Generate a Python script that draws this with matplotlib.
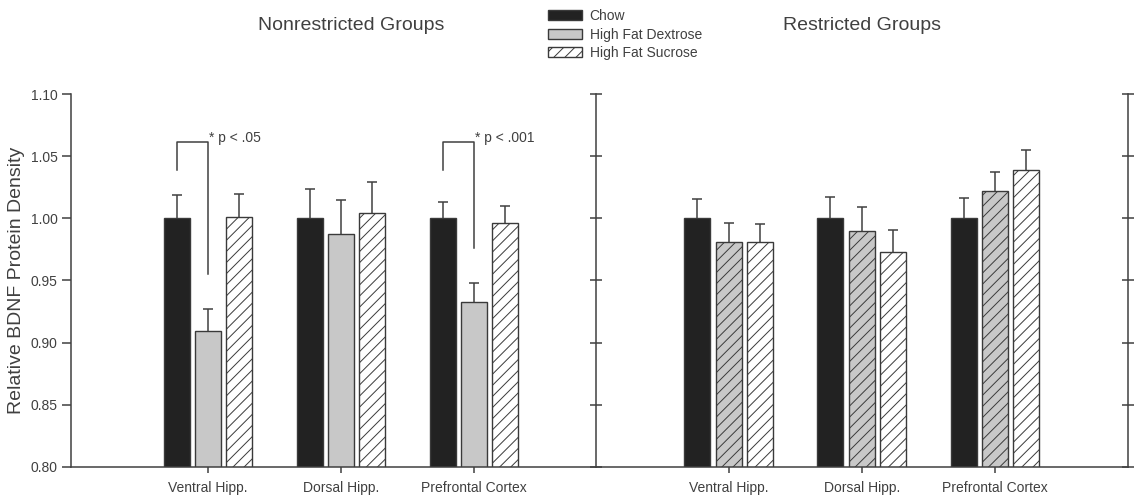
import numpy as np
import matplotlib
matplotlib.use('Agg')
import matplotlib.pyplot as plt
from matplotlib.patches import Patch

plt.rcParams['font.family'] = ['Liberation Sans', 'DejaVu Sans']
plt.rcParams['hatch.linewidth'] = 0.7

groups = ['Ventral Hipp.', 'Dorsal Hipp.', 'Prefrontal Cortex']
series = ['Chow', 'High Fat Dextrose', 'High Fat Sucrose']

# nonrestricted groups
nonres_chow = [1.000, 1.000, 1.000]
nonres_chow_err = [0.0185, 0.0234, 0.0132]
nonres_dext = [0.909, 0.987, 0.933]
nonres_dext_err = [0.018, 0.028, 0.0146]
nonres_sucr = [1.001, 1.004, 0.996]
nonres_sucr_err = [0.0184, 0.025, 0.014]

# restricted groups
res_chow = [1.000, 1.000, 1.000]
res_chow_err = [0.0156, 0.0172, 0.016]
res_dext = [0.981, 0.990, 1.022]
res_dext_err = [0.0155, 0.0188, 0.0153]
res_sucr = [0.981, 0.973, 1.039]
res_sucr_err = [0.0145, 0.0175, 0.0156]

# significance brackets (nonrestricted, chow vs dextrose)
sig_groups = [0, 2]
sig_labels = ['* p < .05', '* p < .001']
sig_top = 1.061
sig_left_end = 1.039
sig_right_end = [0.955, 0.976]

text_col = '#404040'
line_col = '#404040'
chow_col = '#222222'
dext_col = '#c8c8c8'

W, H = 1134, 499
fig = plt.figure(figsize=(W / 100, H / 100), dpi=100)
bottom, top = 467, 94
ax1 = fig.add_axes([71 / W, (H - bottom) / H, (595.5 - 71) / W, (bottom - top) / H])
ax2 = fig.add_axes([595.5 / W, (H - bottom) / H, (1128 - 595.5) / W, (bottom - top) / H])

x = np.arange(1, len(groups) + 1)
width = 0.195
off = 0.235


def draw_panel(ax, chow, chow_err, dext, dext_err, sucr, sucr_err, dext_hatch):
    specs = [
        (x - off, chow, chow_err, chow_col, None),
        (x, dext, dext_err, dext_col, dext_hatch),
        (x + off, sucr, sucr_err, 'white', '///'),
    ]
    for xs, vals, errs, fc, hatch in specs:
        ax.bar(xs, vals, width, color=fc, edgecolor='#3a3a3a', linewidth=1.0,
               hatch=hatch, zorder=2)
        eb = ax.errorbar(xs, vals, yerr=[np.zeros(len(errs)), errs],
                         fmt='none', ecolor=line_col, elinewidth=1.1,
                         capsize=3.6, capthick=1.1, zorder=1)
        # only the upper cap is drawn in the original
        eb[1][0].set_visible(False)
    ax.set_ylim(0.80, 1.10)
    ax.set_yticks(np.arange(0.80, 1.101, 0.05))
    ax.set_xticks(x)
    ax.set_xticklabels(groups, fontsize=10, color=text_col)
    ax.spines['top'].set_visible(False)
    for s in ax.spines.values():
        s.set_color(line_col)
        s.set_linewidth(1.1)
    ax.tick_params(axis='x', direction='out', length=4, width=1.1,
                   color=line_col, pad=6)


draw_panel(ax1, nonres_chow, nonres_chow_err, nonres_dext, nonres_dext_err,
           nonres_sucr, nonres_sucr_err, None)
draw_panel(ax2, res_chow, res_chow_err, res_dext, res_dext_err,
           res_sucr, res_sucr_err, '///')

ax1.set_xlim(-0.03, 3.914)
ax1.spines['right'].set_visible(False)
ax1.set_yticklabels(['%.2f' % v for v in ax1.get_yticks()], fontsize=10,
                    color=text_col)
ax1.tick_params(axis='y', direction='out', length=6.5, width=1.1,
                color=line_col, pad=3)
ax1.set_ylabel('Relative BDNF Protein Density', fontsize=14, color=text_col,
               labelpad=4)

ax2.set_xlim(0, 4)
ax2.tick_params(axis='y', which='both', direction='inout', length=8,
                width=1.1, color=line_col, left=True, right=True,
                labelleft=False)

# brackets
for g, lab, rend in zip(sig_groups, sig_labels, sig_right_end):
    xl = x[g] - off
    xr = x[g]
    ax1.plot([xl, xl, xr, xr], [sig_left_end, sig_top, sig_top, rend],
             color=line_col, lw=1.1, zorder=3)
    ax1.text(xr + 0.005, sig_top + 0.004, lab, fontsize=10, color=text_col,
             ha='left', va='center')

fig.text(351 / W, 1 - 25 / H, 'Nonrestricted Groups', fontsize=14,
         color=text_col, ha='center', va='center')
fig.text(862 / W, 1 - 25 / H, 'Restricted Groups', fontsize=14,
         color=text_col, ha='center', va='center')

handles = [Patch(facecolor=chow_col, edgecolor='#3a3a3a', linewidth=1.0),
           Patch(facecolor=dext_col, edgecolor='#3a3a3a', linewidth=1.0),
           Patch(facecolor='white', edgecolor='#3a3a3a', linewidth=1.0,
                 hatch='///')]
leg = fig.legend(handles, series, loc='upper left',
                 bbox_to_anchor=(548 / W, 1 - 9 / H), frameon=False,
                 fontsize=10, handlelength=2.45, handleheight=0.72,
                 labelspacing=0.33, handletextpad=0.55, borderpad=0,
                 borderaxespad=0)
for t in leg.get_texts():
    t.set_color(text_col)

fig.savefig('out.png', dpi=100)
